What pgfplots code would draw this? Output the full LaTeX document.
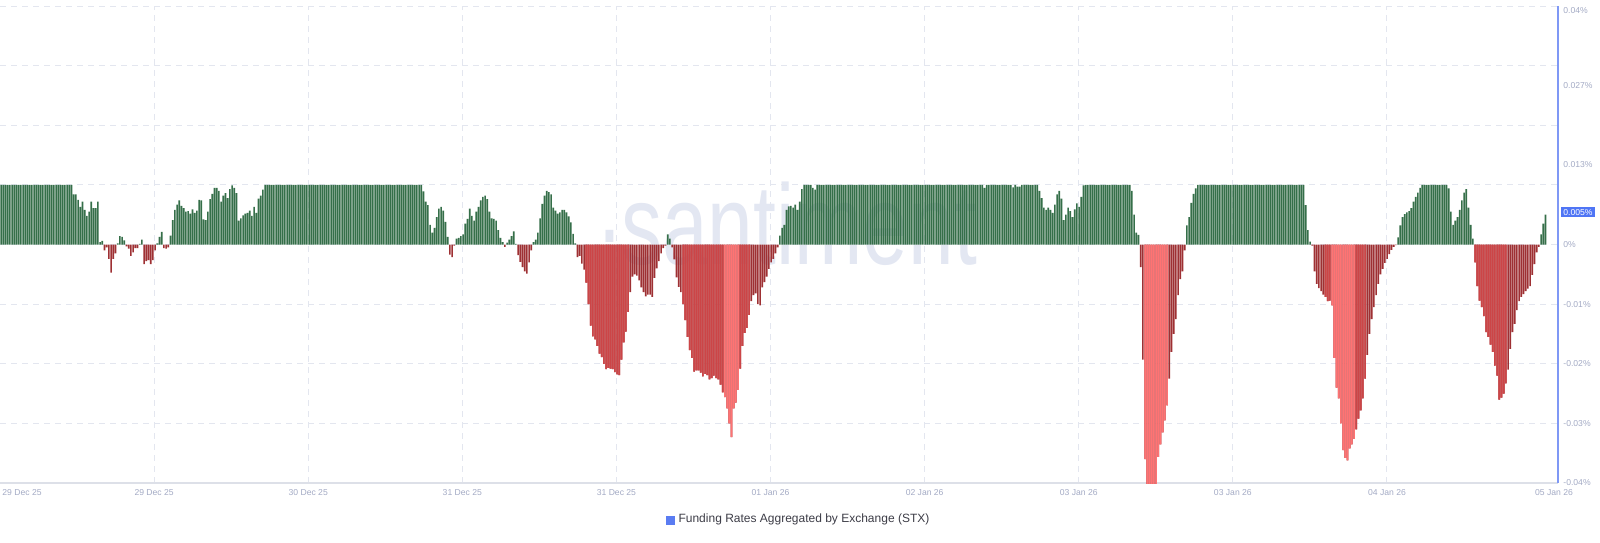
\documentclass[border=0pt]{standalone}
\usepackage{fontspec}
\setmainfont{Liberation Sans}
\usepackage{graphicx}
\usepackage{pgfplots}
\usepackage{pgfplotstable}
\pgfplotsset{compat=1.18}
\definecolor{cgreen}{HTML}{356F49}
\definecolor{cdark}{HTML}{9E3033}
\definecolor{cmed}{HTML}{CC4547}
\definecolor{cpink}{HTML}{FF7373}
\definecolor{gridc}{HTML}{E3E6EF}
\definecolor{axisc}{HTML}{DDE0E8}
\definecolor{tickc}{HTML}{A3AAC4}
\definecolor{axblue}{HTML}{7F98F5}
\definecolor{hlblue}{HTML}{4F75F5}
\definecolor{legblue}{HTML}{5A7CF2}
\definecolor{wm}{HTML}{E3E7F2}
\definecolor{legtext}{HTML}{3C3C46}
% funding rate in units of 0.0001 %
\pgfplotstableread{
v
100
100
100
100
100
100
100
100
100
100
100
100
100
100
100
100
100
100
100
100
100
100
100
100
100
100
100
100
100
100
100
100
100
84
84
75
63
72
58
48
55
72
61
61
72
4
6
-10
-5
-24
-47
-24
-15
2
14
13
7
-3
-7
-19
-13
-6
-6
1
8
-33
-28
-26
-33
-26
-10
2
13
21
-6
-7
-5
15
41
58
67
74
65
61
55
56
52
59
53
57
75
74
42
41
55
76
85
95
95
90
72
82
86
78
93
99
95
86
40
44
49
52
53
57
48
63
53
77
82
92
100
100
100
100
100
100
100
100
100
100
100
100
100
100
100
100
100
100
100
100
100
100
100
100
100
100
100
100
100
100
100
100
100
100
100
100
100
100
100
100
100
100
100
100
100
100
100
100
100
100
100
100
100
100
100
100
100
100
100
100
100
100
100
100
100
100
100
100
100
100
100
100
89
72
66
33
20
28
46
60
63
57
38
13
-17
-21
-2
10
11
14
17
35
43
60
48
40
55
63
74
80
82
76
55
44
43
40
24
11
4
-4
3
8
14
22
1
-18
-29
-38
-45
-49
-30
-10
4
8
20
44
68
82
90
88
84
62
57
52
54
58
58
54
47
37
18
2
-21
-19
-32
-42
-64
-100
-136
-154
-159
-170
-183
-189
-200
-209
-207
-208
-209
-214
-218
-219
-193
-164
-146
-113
-80
-54
-50
-52
-60
-72
-80
-87
-84
-84
-88
-56
-40
-28
-15
-6
-2
17
10
-5
-25
-55
-71
-80
-100
-127
-155
-177
-190
-213
-211
-211
-215
-221
-217
-219
-226
-224
-220
-224
-226
-235
-248
-256
-275
-300
-323
-275
-265
-244
-208
-170
-148
-140
-118
-95
-85
-82
-100
-102
-72
-63
-54
-41
-30
-24
-15
-5
15
28
33
58
64
65
62
67
58
72
93
100
100
100
100
95
92
100
100
100
100
100
100
100
100
100
100
100
100
100
100
100
100
100
100
100
100
100
100
100
100
100
100
100
100
100
100
100
100
100
100
100
100
100
100
100
100
100
100
100
100
100
100
100
100
100
100
100
100
100
100
100
100
100
100
100
100
100
100
100
100
100
100
100
100
100
100
100
100
100
100
100
100
95
100
100
100
100
100
100
100
100
100
100
100
100
96
100
97
97
100
100
100
100
100
100
100
100
90
78
62
58
62
58
53
67
84
90
77
41
50
62
56
46
59
69
63
80
99
100
100
100
100
100
100
100
100
100
100
100
100
100
100
100
100
100
100
100
100
100
90
50
20
16
-38
-193
-360
-405
-405
-405
-405
-405
-356
-335
-315
-295
-270
-225
-180
-150
-125
-85
-58
-45
-10
32
46
70
85
94
100
100
100
100
100
100
100
100
100
100
100
100
100
100
100
100
100
100
100
100
100
100
100
100
100
100
100
100
100
100
100
100
100
100
100
100
100
100
100
100
100
100
100
100
100
100
100
100
100
66
24
5
-2
-45
-66
-73
-78
-84
-88
-95
-94
-102
-190
-240
-258
-300
-345
-358
-362
-342
-335
-326
-310
-292
-278
-258
-225
-185
-150
-125
-105
-85
-66
-50
-41
-31
-24
-16
-9
-4
-1
12
32
46
51
54
56
61
72
80
87
95
100
100
100
100
100
100
100
100
100
100
100
100
94
55
33
40
46
58
74
87
93
62
33
10
-30
-70
-94
-105
-120
-147
-155
-168
-180
-203
-220
-260
-257
-250
-233
-210
-175
-147
-133
-110
-95
-88
-83
-78
-74
-70
-51
-33
-13
-4
17
35
50
}\fundingdata
\pgfplotsset{barbase/.style={ybar, bar width=0.75, bar shift=0pt, draw=none, forget plot}}
\newcommand{\bars}[2]{\addplot[barbase, fill=#1, #2] table[x expr=\coordindex, y index=0, y expr=\thisrow{v}/10000]{\fundingdata};}
\begin{document}
\begin{tikzpicture}
\path[use as bounding box] (0,0) rectangle (800pt,271pt);
\node[anchor=base west, inner sep=0pt, text=wm] at (299pt,139pt) {\scalebox{0.72}[1]{\fontsize{57}{57}\selectfont\raisebox{11pt}{.}santiment}};
\begin{axis}[
  at={(0pt,29.5pt)}, anchor=south west,
  scale only axis, width=779pt, height=238.5pt,
  xmin=-0.5, xmax=707.7, ymin=-0.04, ymax=0.04,
  axis x line*=bottom, axis y line*=right,
  x axis line style={draw=axisc, line width=0.6pt},
  y axis line style={draw=axblue, line width=0.6pt},
  xtick={69.55,139.6,209.65,279.7,349.75,419.8,489.85,559.9,629.95},
  xticklabels={29 Dec 25,30 Dec 25,31 Dec 25,31 Dec 25,01 Jan 26,02 Jan 26,03 Jan 26,03 Jan 26,04 Jan 26},
  extra x ticks={9.5,705.9},
  extra x tick labels={29 Dec 25,05 Jan 26},
  extra x tick style={grid=none},
  xmajorgrids,
  ytick={-0.04,-0.03,-0.02,-0.01,0,0.0133333,0.0266667,0.0393},
  yticklabels={-0.04\%,-0.03\%,-0.02\%,-0.01\%,0\%,0.013\%,0.027\%,0.04\%},
  minor ytick={-0.04,-0.03,-0.02,-0.01,0,0.01,0.02,0.03,0.04},
  yminorgrids,
  extra y ticks={0.0054},
  extra y tick labels={0.005\%},
  extra y tick style={grid=none, yticklabel style={fill=hlblue, text=white, inner xsep=1.2pt, inner ysep=1pt, xshift=-1.2pt}},
  grid style={draw=gridc, dash pattern=on 3pt off 2.5pt, line width=0.5pt},
  major tick length=0pt, minor tick length=0pt,
  tick label style={font=\fontsize{4.3}{5}\selectfont, text=tickc},
  xticklabel style={inner sep=0pt, anchor=north, yshift=-3pt},
  yticklabel style={inner sep=0pt, anchor=west, xshift=2.5pt},
  legend style={at={(0.5132,-0.0776)}, anchor=center, draw=none, fill=none,
    font=\fontsize{6}{7}\selectfont, text=legtext, inner sep=0pt},
  legend cell align=left,
]
\bars{cgreen}{restrict y to domain=0:1}
\bars{cdark}{restrict y to domain=-1:0}
\bars{cmed}{restrict y to domain=-1:0, restrict x to domain=266:285}
\bars{cmed}{restrict y to domain=-1:0, restrict x to domain=310:328}
\bars{cmed}{restrict y to domain=-1:0, restrict x to domain=336:340}
\bars{cmed}{restrict y to domain=-1:0, restrict x to domain=602:604}
\bars{cmed}{restrict y to domain=-1:0, restrict x to domain=616:620}
\bars{cmed}{restrict y to domain=-1:0, restrict x to domain=670:684}
\bars{cpink}{restrict y to domain=-1:0, restrict x to domain=329:335}
\bars{cpink}{restrict y to domain=-1:0, restrict x to domain=520:530}
\bars{cpink}{restrict y to domain=-1:0, restrict x to domain=605:615}
\addlegendimage{legend image code/.code={\fill[legblue] (0pt,-2pt) rectangle (4pt,2pt);}}
\addlegendentry{Funding Rates Aggregated by Exchange (STX)}
\end{axis}
\end{tikzpicture}
\end{document}
